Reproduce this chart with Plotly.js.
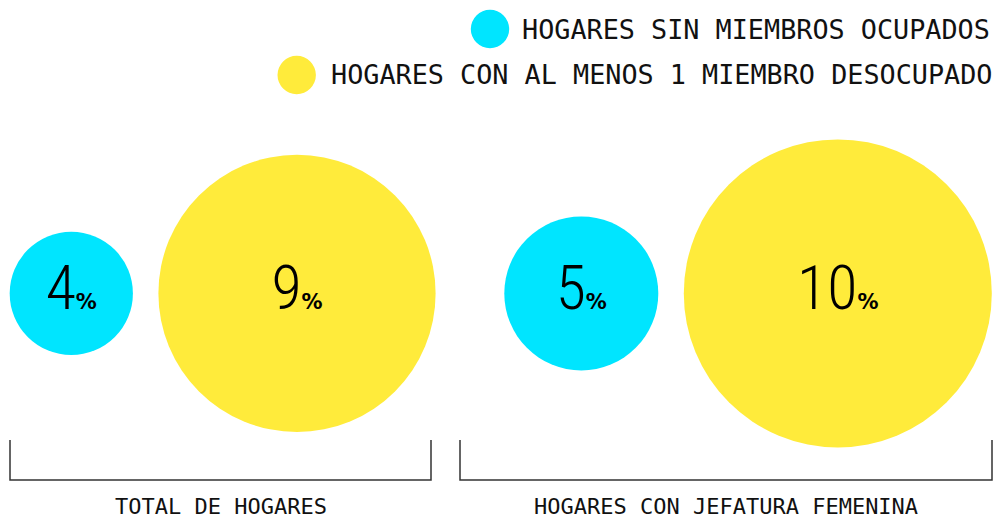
<!DOCTYPE html>
<html>
<head>
<meta charset="utf-8">
<script src="https://cdn.plot.ly/plotly-3.0.1.min.js"></script>
<style>
  html, body { margin: 0; padding: 0; background: #ffffff; }
  #chart { width: 993px; height: 520px; }
</style>
</head>
<body>
<div id="chart"></div>
<script>
// ---- data ----
var categories = ["TOTAL DE HOGARES", "HOGARES CON JEFATURA FEMENINA"];
var seriesNames = ["HOGARES SIN MIEMBROS OCUPADOS", "HOGARES CON AL MENOS 1 MIEMBRO DESOCUPADO"];
var sinOcupados = [4, 5];
var conDesocupado = [9, 10];

// ---- layout constants ----
var W = 993, H = 520;
var PX_PER_UNIT = 30.8;          // bubble diameter in px per percentage point
var GAP = 25.5;                  // gap between bubbles of a group (px)
var groupLeft = [9.7, 504.3];    // left edge of each group of bubbles (px)
var bracketX = [[10, 431], [460, 992]];
var CYAN = "#00E5FF", YELLOW = "#FFEB3B";
var MONO = "DejaVu Sans Mono, Liberation Mono, monospace";
var NUMFONT = "Liberation Sans Narrow, Roboto Condensed, DejaVu Sans Condensed, Roboto, sans-serif";

// bubble centres (in px along x) derived from values
var xCyan = [], xYellow = [];
for (var i = 0; i < categories.length; i++) {
  var d1 = sinOcupados[i] * PX_PER_UNIT, d2 = conDesocupado[i] * PX_PER_UNIT;
  xCyan.push(groupLeft[i] + d1 / 2);
  xYellow.push(groupLeft[i] + d1 + GAP + d2 / 2);
}
function label(v) {
  return v + '<span style="font-size:21px;font-family:DejaVu Sans;"><b>%</b></span>';
}
var zeros = categories.map(function () { return 0; });

var traces = [
  {
    type: "scatter", mode: "markers+text", name: seriesNames[0],
    x: xCyan, y: zeros, customdata: categories,
    text: sinOcupados.map(label), textposition: "middle center",
    textfont: { family: NUMFONT, size: 62, color: "#000", weight: 300 },
    marker: { size: sinOcupados, sizemode: "diameter", sizeref: 1 / PX_PER_UNIT,
              color: CYAN, opacity: 1, line: { width: 0 } },
    hoverinfo: "skip", cliponaxis: false
  },
  {
    type: "scatter", mode: "markers+text", name: seriesNames[1],
    x: xYellow, y: zeros, customdata: categories,
    text: conDesocupado.map(label), textposition: "middle center",
    textfont: { family: NUMFONT, size: 62, color: "#000", weight: 300 },
    marker: { size: conDesocupado, sizemode: "diameter", sizeref: 1 / PX_PER_UNIT,
              color: YELLOW, opacity: 1, line: { width: 0 } },
    hoverinfo: "skip", cliponaxis: false
  }
];

function px(x) { return x / W; }
function py(y) { return 1 - y / H; }

var shapes = [], annotations = [];
// brackets + category labels
for (var g = 0; g < categories.length; g++) {
  var a = bracketX[g][0], b = bracketX[g][1];
  shapes.push({
    type: "path", xref: "paper", yref: "paper",
    path: "M " + px(a) + "," + py(440) + " L " + px(a) + "," + py(480) +
          " L " + px(b) + "," + py(480) + " L " + px(b) + "," + py(440),
    line: { color: "#333333", width: 1.5 }
  });
  annotations.push({
    xref: "paper", yref: "paper", x: px((a + b) / 2), y: 0,
    xanchor: "center", yanchor: "bottom", showarrow: false, borderpad: 0,
    text: categories[g], font: { family: MONO, size: 22, color: "#111" }
  });
}
// legend (custom, large circles)
var legendRows = [
  { cx: 490, cy: 29, tx: 520, color: CYAN, name: seriesNames[0] },
  { cx: 296.7, cy: 75, tx: 328.5, color: YELLOW, name: seriesNames[1] }
];
legendRows.forEach(function (r) {
  shapes.push({
    type: "circle", xref: "paper", yref: "paper",
    xsizemode: "pixel", ysizemode: "pixel",
    xanchor: px(r.cx), yanchor: py(r.cy),
    x0: -19.2, x1: 19.2, y0: -19.2, y1: 19.2,
    fillcolor: r.color, line: { width: 0 }
  });
  annotations.push({
    xref: "paper", yref: "paper", x: px(r.tx), y: py(r.cy),
    xanchor: "left", yanchor: "middle", showarrow: false,
    text: r.name, font: { family: MONO, size: 26.8, color: "#111" }
  });
});

var CENTER_Y = 293.4;
var layout = {
  width: W, height: H,
  margin: { l: 0, r: 0, t: 0, b: 0, pad: 0 },
  paper_bgcolor: "#ffffff", plot_bgcolor: "#ffffff",
  showlegend: false,
  xaxis: { range: [0, W], visible: false, fixedrange: true },
  yaxis: { range: [-(H - CENTER_Y), CENTER_Y], visible: false, fixedrange: true },
  shapes: shapes,
  annotations: annotations
};

Plotly.newPlot("chart", traces, layout, { staticPlot: true, displayModeBar: false });
</script>
</body>
</html>
